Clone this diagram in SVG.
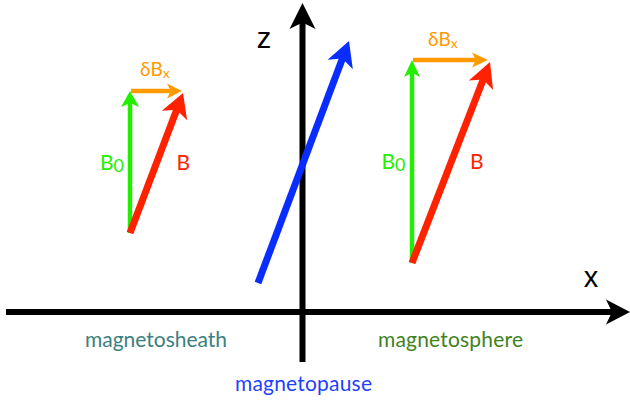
<svg xmlns="http://www.w3.org/2000/svg" xmlns:xlink="http://www.w3.org/1999/xlink" width="630" height="401" viewBox="0 0 630 401">
<style>
.lbl{font-family:Lato,"Gill Sans","Noto Sans",sans-serif}
.ax{font-family:"Liberation Sans",Arial,sans-serif;font-size:29px;fill:#000}
.blk{stroke:#000;fill:none}
.grn{stroke:#22ee00;fill:none;stroke-width:4.5}
.org{stroke:#ff9900;fill:none;stroke-width:4.5}
.red{stroke:#ff2200;fill:none;stroke-width:7}
.blu{stroke:#0a2dff;fill:none;stroke-width:7}
</style>
<defs>
<path id="ah" d="M0,0 L-1,-0.5 L-0.75,0 L-1,0.5 Z"/>
</defs>
<rect width="630" height="401" fill="#fff"/>
<g id="connectors">
  <g id="x-axis">
    <line class="blk" x1="6" y1="312" x2="612" y2="312" stroke-width="6"/>
    <use xlink:href="#ah" fill="#000" transform="translate(630,312) scale(24,25)"/>
  </g>
  <g id="z-axis">
    <line class="blk" x1="302.5" y1="362" x2="302.5" y2="22" stroke-width="6"/>
    <use xlink:href="#ah" fill="#000" transform="translate(302.5,3) rotate(-90) scale(26,26)"/>
  </g>
  <g id="magnetopause-vector">
    <line class="blu" x1="258" y1="283" x2="342.8" y2="57.4"/>
    <use xlink:href="#ah" fill="#0a2dff" transform="translate(349,41) rotate(-69.4) scale(25,27)"/>
  </g>
  <g id="left-B0">
    <line class="grn" x1="130" y1="233" x2="130" y2="103"/>
    <use xlink:href="#ah" fill="#22ee00" transform="translate(130,91) rotate(-90) scale(16,18)"/>
  </g>
  <g id="left-dBx">
    <line class="org" x1="131" y1="91" x2="171" y2="91"/>
    <use xlink:href="#ah" fill="#ff9900" transform="translate(182,91) scale(15,15)"/>
  </g>
  <g id="left-B">
    <line class="red" x1="130" y1="233" x2="177.1" y2="108.7"/>
    <use xlink:href="#ah" fill="#ff2200" transform="translate(183,93) rotate(-69.3) scale(24,27)"/>
  </g>
  <g id="right-B0">
    <line class="grn" x1="412" y1="263" x2="412" y2="73"/>
    <use xlink:href="#ah" fill="#22ee00" transform="translate(412,60) rotate(-90) scale(17,16)"/>
  </g>
  <g id="right-dBx">
    <line class="org" x1="413" y1="60" x2="476" y2="60"/>
    <use xlink:href="#ah" fill="#ff9900" transform="translate(488,60) scale(16,15)"/>
  </g>
  <g id="right-B">
    <line class="red" x1="412" y1="263" x2="483.7" y2="78.3"/>
    <use xlink:href="#ah" fill="#ff2200" transform="translate(490,62) rotate(-68.8) scale(25,26)"/>
  </g>
</g>
<g id="labels">
  <g id="label-x"><text class="ax" x="591" y="287" text-anchor="middle">x</text></g>
  <g id="label-z"><text class="ax" x="264" y="48" text-anchor="middle">z</text></g>
  <g id="label-left-dBx"><text class="lbl" x="140" y="76" font-size="19" fill="#ff9900">δB<tspan font-size="14" dy="2">x</tspan></text></g>
  <g id="label-left-B0"><text class="lbl" x="100" y="170" font-size="21" fill="#22ee00">B<tspan font-size="18" dy="2">0</tspan></text></g>
  <g id="label-left-B"><text class="lbl" x="176.5" y="170" font-size="21" fill="#ff2200">B</text></g>
  <g id="label-right-dBx"><text class="lbl" x="428" y="46" font-size="19" fill="#ff9900">δB<tspan font-size="14" dy="2">x</tspan></text></g>
  <g id="label-right-B0"><text class="lbl" x="381.5" y="169" font-size="21" fill="#22ee00">B<tspan font-size="18" dy="2">0</tspan></text></g>
  <g id="label-right-B"><text class="lbl" x="470" y="169" font-size="21" fill="#ff2200">B</text></g>
  <g id="label-magnetosheath"><text class="lbl" x="85" y="347" font-size="21" fill="#3a8080" textLength="142" lengthAdjust="spacing">magnetosheath</text></g>
  <g id="label-magnetosphere"><text class="lbl" x="378" y="347" font-size="21" fill="#3f8222" textLength="145" lengthAdjust="spacing">magnetosphere</text></g>
  <g id="label-magnetopause"><text class="lbl" x="235" y="391" font-size="21" fill="#1f3fff" textLength="137" lengthAdjust="spacing">magnetopause</text></g>
</g>
</svg>
